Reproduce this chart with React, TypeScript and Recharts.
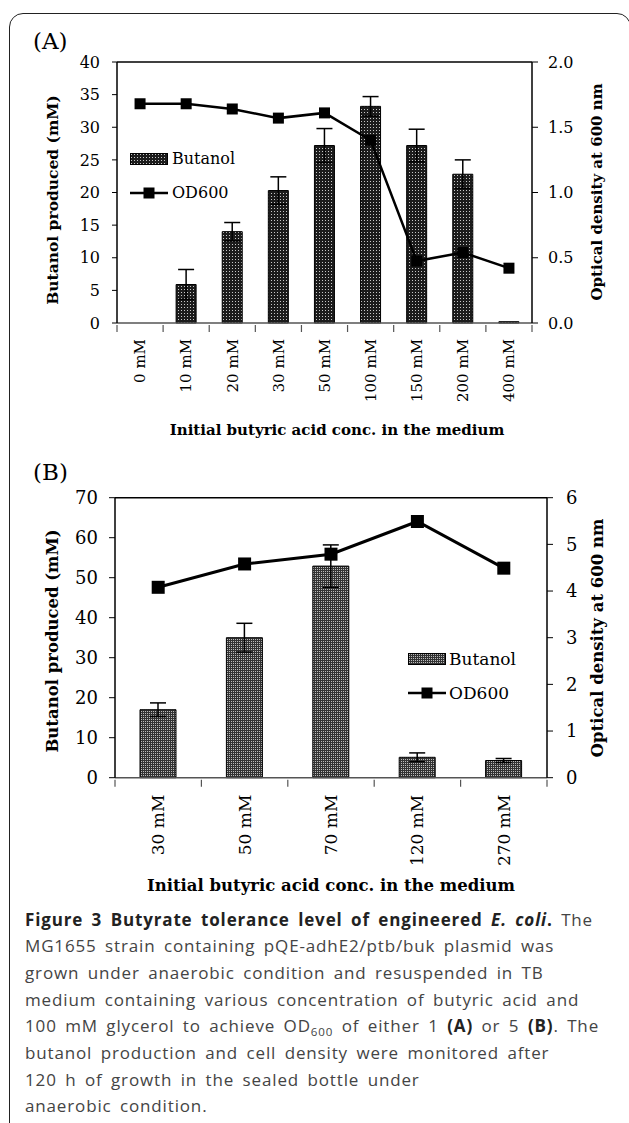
import React from "react";
import {
  ComposedChart,
  Bar,
  Line,
  XAxis,
  YAxis,
  ErrorBar,
  Legend,
  ReferenceLine,
} from "recharts";

const SERIF = '"DejaVu Serif", serif';
const SANS = '"Open Sans", sans-serif';

// Panel (A): OD600 = 1 start
const catsA = ["0 mM", "10 mM", "20 mM", "30 mM", "50 mM", "100 mM", "150 mM", "200 mM", "400 mM"];
const butanolA = [0, 5.9, 14.0, 20.3, 27.2, 33.2, 27.2, 22.8, 0.2];
const butanolErrA = [0, 2.3, 1.4, 2.1, 2.6, 1.5, 2.5, 2.2, 0];
const odA = [1.68, 1.68, 1.64, 1.57, 1.61, 1.4, 0.475, 0.54, 0.42];
const leftTicksA = [0, 5, 10, 15, 20, 25, 30, 35, 40];
const rightTicksA = [0, 0.5, 1.0, 1.5, 2.0];

// Panel (B): OD600 = 5 start
const catsB = ["30 mM", "50 mM", "70 mM", "120 mM", "270 mM"];
const butanolB = [17.0, 35.0, 52.9, 5.1, 4.3];
const butanolErrB = [1.7, 3.6, 5.3, 1.1, 0.5];
const odB = [4.08, 4.58, 4.79, 5.49, 4.49];
const leftTicksB = [0, 10, 20, 30, 40, 50, 60, 70];
const rightTicksB = [0, 1, 2, 3, 4, 5, 6];

const dataA = catsA.map((cat, i) => ({ cat, butanol: butanolA[i], err: butanolErrA[i], od: odA[i] }));
const dataB = catsB.map((cat, i) => ({ cat, butanol: butanolB[i], err: butanolErrB[i], od: odB[i] }));

const squareDot = (size: number) => (p: any) => (
  <rect key={`sq-${p.index}`} x={p.cx - size / 2} y={p.cy - size / 2} width={size} height={size} fill="#000" />
);

// Excel-style category axis: tick marks between categories, labels rotated
const catTick = (band: number, n: number, fontSize: number, gap: number) => (p: any) => {
  const { x, y, payload, index } = p;
  const ty = y + gap;
  return (
    <g>
      <line x1={x - band / 2} x2={x - band / 2} y1={y} y2={y + 7} stroke="#555" strokeWidth={1.2} />
      {index === n - 1 && (
        <line x1={x + band / 2} x2={x + band / 2} y1={y} y2={y + 7} stroke="#555" strokeWidth={1.2} />
      )}
      <text
        x={x}
        y={ty}
        transform={`rotate(-90 ${x} ${ty})`}
        textAnchor="end"
        dy="0.35em"
        fontFamily={SERIF}
        fontSize={fontSize}
        fill="#000"
      >
        {payload.value}
      </text>
    </g>
  );
};

const legendContent = (fontSize: number, pattern: string, gap: number) => () => (
  <div style={{ fontFamily: SERIF, fontSize, color: "#000", lineHeight: 1 }}>
    <div style={{ display: "flex", alignItems: "center", height: 34 }}>
      <svg width={38} height={12}>
        <rect x={0.5} y={0.5} width={37} height={11} fill={`url(#${pattern})`} stroke="#000" />
      </svg>
      <span style={{ marginLeft: gap }}>Butanol</span>
    </div>
    <div style={{ display: "flex", alignItems: "center", height: 34 }}>
      <svg width={38} height={12}>
        <line x1={0} x2={38} y1={6} y2={6} stroke="#000" strokeWidth={2.5} />
        <rect x={13.5} y={0.5} width={11} height={11} fill="#000" />
      </svg>
      <span style={{ marginLeft: gap }}>OD600</span>
    </div>
  </div>
);

const abs = (left: number, top: number, extra: React.CSSProperties = {}): React.CSSProperties => ({
  position: "absolute",
  left,
  top,
  ...extra,
});

const rotated = (cx: number, cy: number, fontSize: number): React.CSSProperties => ({
  position: "absolute",
  left: cx,
  top: cy,
  transform: "translate(-50%, -50%) rotate(-90deg)",
  whiteSpace: "nowrap",
  fontFamily: SERIF,
  fontWeight: "bold",
  fontSize,
  color: "#000",
});

const centered = (cx: number, cy: number, fontSize: number): React.CSSProperties => ({
  position: "absolute",
  left: cx,
  top: cy,
  transform: "translate(-50%, -50%)",
  whiteSpace: "nowrap",
  fontFamily: SERIF,
  fontWeight: "bold",
  fontSize,
  color: "#000",
});

const bold: React.CSSProperties = { color: "#222", fontWeight: 700 };

const captionLines: React.ReactNode[] = [
  <>
    <span style={bold}>
      Figure 3 Butyrate tolerance level of engineered <i>E. coli</i>.
    </span>{" "}
    The
  </>,
  <>MG1655 strain containing pQE-adhE2/ptb/buk plasmid was</>,
  <>grown under anaerobic condition and resuspended in TB</>,
  <>medium containing various concentration of butyric acid and</>,
  <>
    100 mM glycerol to achieve OD
    <span style={{ fontSize: "0.68em", position: "relative", top: "0.35em", lineHeight: 0 }}>600</span> of either 1{" "}
    <span style={bold}>(A)</span> or 5 <span style={bold}>(B)</span>. The
  </>,
  <>butanol production and cell density were monitored after</>,
  <>120 h of growth in the sealed bottle under</>,
  <>anaerobic condition.</>,
];

export default function App() {
  const axisStroke = { stroke: "#000", strokeWidth: 1.5 };
  return (
    <div style={{ position: "absolute", left: 0, top: 0, width: 629, height: 1123, overflow: "hidden", background: "#fff" }}>
      <svg width={0} height={0} style={{ position: "absolute" }}>
        <defs>
          <pattern id="dotsA" width={3} height={3} patternUnits="userSpaceOnUse">
            <rect width={3} height={3} fill="#1c1c1c" />
            <rect x={1} y={1} width={1} height={1} fill="#c8c8c8" />
          </pattern>
          <pattern id="dotsB" width={2} height={2} patternUnits="userSpaceOnUse">
            <rect width={2} height={2} fill="#333" />
            <rect x={1} y={1} width={1} height={1} fill="#bbb" />
          </pattern>
        </defs>
      </svg>

      {/* figure frame */}
      <div
        style={abs(9, 13, {
          width: 622,
          height: 1200,
          border: "1.5px solid #222",
          borderRadius: 14,
          boxSizing: "border-box",
        })}
      />

      {/* Panel A */}
      <div style={abs(0, 0)}>
        <ComposedChart width={629} height={440} data={dataA} margin={{ top: 62, right: 0, bottom: 0, left: 0 }}>
          <XAxis
            dataKey="cat"
            height={117}
            interval={0}
            tickSize={0}
            tickLine={false}
            axisLine={{ stroke: "#555", strokeWidth: 1.5 }}
            tick={catTick(415 / catsA.length, catsA.length, 15, 14)}
          />
          <YAxis
            yAxisId="left"
            width={117}
            domain={[0, 40]}
            ticks={leftTicksA}
            tickSize={5}
            tickMargin={12}
            axisLine={axisStroke}
            tickLine={{ stroke: "#000" }}
            tick={{ fontFamily: SERIF, fontSize: 16, fill: "#000" }}
          />
          <YAxis
            yAxisId="right"
            orientation="right"
            width={97}
            domain={[0, 2]}
            ticks={rightTicksA}
            tickFormatter={(v: number) => v.toFixed(1)}
            tickSize={6}
            tickMargin={10}
            axisLine={axisStroke}
            tickLine={{ stroke: "#000" }}
            tick={{ fontFamily: SERIF, fontSize: 16, fill: "#000" }}
          />
          <ReferenceLine yAxisId="left" y={40} stroke="#000" strokeWidth={1.5} />
          <Bar yAxisId="left" dataKey="butanol" fill="url(#dotsA)" stroke="#000" strokeWidth={1} barSize={20} isAnimationActive={false}>
            <ErrorBar dataKey="err" width={8} stroke="#000" strokeWidth={1.5} />
          </Bar>
          <Line
            yAxisId="right"
            dataKey="od"
            stroke="#000"
            strokeWidth={2.5}
            dot={squareDot(11)}
            activeDot={false}
            isAnimationActive={false}
          />
          <Legend
            layout="vertical"
            align="center"
            verticalAlign="middle"
            content={legendContent(16, "dotsA", 4)}
            wrapperStyle={{ left: 130, top: 142, width: "auto" }}
          />
        </ComposedChart>
      </div>
      <div style={abs(33, 28, { fontFamily: SERIF, fontSize: 23, color: "#000" })}>(A)</div>
      <div style={rotated(52, 200, 15.5)}>Butanol produced (mM)</div>
      <div style={rotated(597, 192, 15)}>Optical density at 600 nm</div>
      <div style={centered(337, 430, 15)}>Initial butyric acid conc. in the medium</div>

      {/* Panel B */}
      <div style={abs(0, 430)}>
        <ComposedChart width={629} height={440} data={dataB} margin={{ top: 67.7, right: 0, bottom: 0, left: 0 }}>
          <XAxis
            dataKey="cat"
            height={92.3}
            interval={0}
            tickSize={0}
            tickLine={false}
            axisLine={{ stroke: "#555", strokeWidth: 1.5 }}
            tick={catTick(432 / catsB.length, catsB.length, 17, 15)}
          />
          <YAxis
            yAxisId="left"
            width={115}
            domain={[0, 70]}
            ticks={leftTicksB}
            tickSize={6}
            tickMargin={11}
            axisLine={axisStroke}
            tickLine={{ stroke: "#000" }}
            tick={{ fontFamily: SERIF, fontSize: 18, fill: "#000" }}
          />
          <YAxis
            yAxisId="right"
            orientation="right"
            width={82}
            domain={[0, 6]}
            ticks={rightTicksB}
            tickSize={6}
            tickMargin={13}
            axisLine={axisStroke}
            tickLine={{ stroke: "#000" }}
            tick={{ fontFamily: SERIF, fontSize: 18, fill: "#000" }}
          />
          <ReferenceLine yAxisId="left" y={70} stroke="#000" strokeWidth={1.5} />
          <Bar yAxisId="left" dataKey="butanol" fill="url(#dotsB)" stroke="#000" strokeWidth={1} barSize={36} isAnimationActive={false}>
            <ErrorBar dataKey="err" width={8} stroke="#000" strokeWidth={1.5} />
          </Bar>
          <Line
            yAxisId="right"
            dataKey="od"
            stroke="#000"
            strokeWidth={3}
            dot={squareDot(13)}
            activeDot={false}
            isAnimationActive={false}
          />
          <Legend
            layout="vertical"
            align="center"
            verticalAlign="middle"
            content={legendContent(17, "dotsB", 3)}
            wrapperStyle={{ left: 408, top: 212, width: "auto" }}
          />
        </ComposedChart>
      </div>
      <div style={abs(33, 459, { fontFamily: SERIF, fontSize: 23, color: "#000" })}>(B)</div>
      <div style={rotated(52, 641, 16.5)}>Butanol produced (mM)</div>
      <div style={rotated(597, 638, 16.5)}>Optical density at 600 nm</div>
      <div style={centered(331, 885, 16.5)}>Initial butyric acid conc. in the medium</div>

      {/* caption */}
      <div
        style={abs(25, 906.7, {
          fontFamily: SANS,
          fontSize: 17,
          lineHeight: "26.67px",
          letterSpacing: 0.85,
          wordSpacing: 3.2,
          color: "#444",
          whiteSpace: "nowrap",
        })}
      >
        {captionLines.map((l, i) => (
          <div key={i} style={{ height: 26.67 }}>
            {l}
          </div>
        ))}
      </div>
    </div>
  );
}
